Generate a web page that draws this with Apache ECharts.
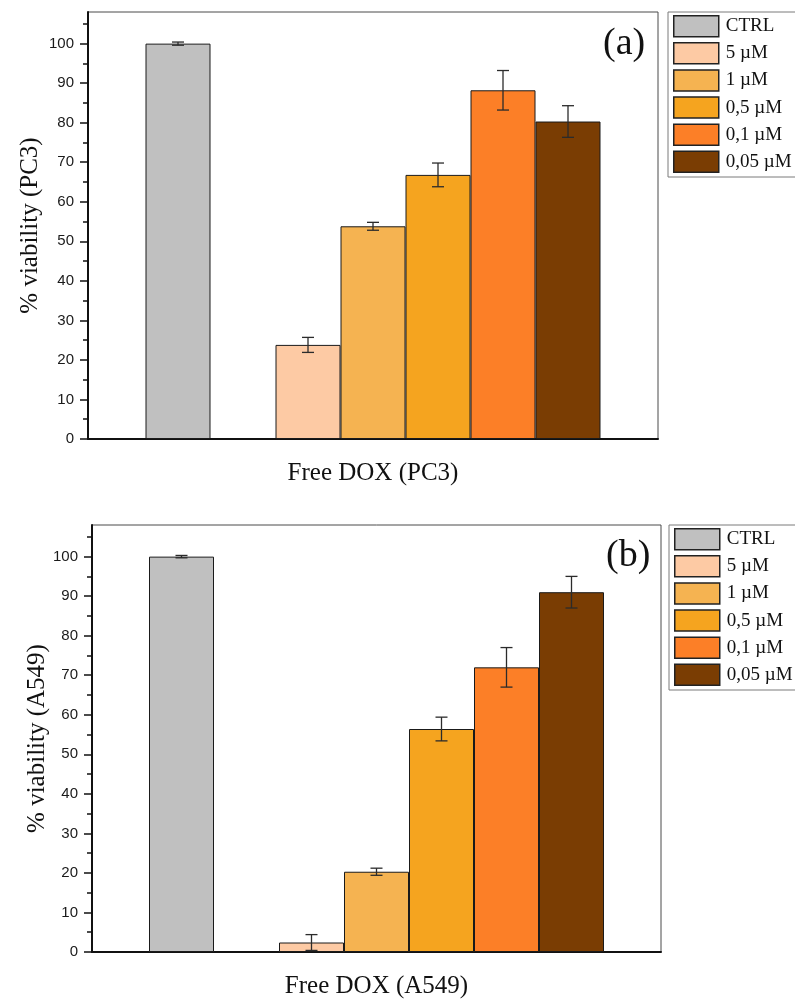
<!DOCTYPE html>
<html>
<head>
<meta charset="utf-8">
<title>Free DOX viability</title>
<script src="https://cdn.jsdelivr.net/npm/echarts@6/dist/echarts.min.js"></script>
<style>
  html, body { margin: 0; padding: 0; background: #ffffff; }
  #chart { width: 795px; height: 1003px; }
</style>
</head>
<body>
<div id="chart"></div>
<script>
// Treatment groups (legend order)
const groups = ['CTRL', '5 µM', '1 µM', '0,5 µM', '0,1 µM', '0,05 µM'];
const groupColors = ['#c0c0c0', '#fdcaa4', '#f5b351', '#f5a41f', '#fc7f27', '#7a3d03'];

// Cell viability (%) and standard deviation per group
const pc3Viability = [100, 23.8, 53.8, 66.8, 88.2, 80.3];
const pc3Error = [0.4, 1.9, 1.0, 3.0, 5.0, 4.0];
const a549Viability = [100, 2.4, 20.3, 56.4, 72.0, 91.0];
const a549Error = [0.3, 2.0, 0.9, 3.0, 5.0, 4.0];

// Axis tick values
const majorTicks = [0, 10, 20, 30, 40, 50, 60, 70, 80, 90, 100];
const minorTicks = [5, 15, 25, 35, 45, 55, 65, 75, 85, 95, 105];

const panels = [
  { category: 'Free DOX (PC3)', yName: '% viability (PC3)', tag: '(a)',
    values: pc3Viability, errors: pc3Error,
    grid: { left: 88, right: 137, top: 12, height: 427 },
    legend: { left: 668, top: 12 }, tagPos: [603, 44], yGap: 45 },
  { category: 'Free DOX (A549)', yName: '% viability (A549)', tag: '(b)',
    values: a549Viability, errors: a549Error,
    grid: { left: 92, right: 134, top: 525, height: 427 },
    legend: { left: 669, top: 525 }, tagPos: [606, 556], yGap: 42 }
];

const BAR_W = 65;
// slot layout inside the category: CTRL, empty gap, then the five doses
const groupSlots = [0, 2, 3, 4, 5, 6];
const SLOT_COUNT = 7;

const serif = '"Liberation Serif", "Times New Roman", serif';
const sans = '"Liberation Sans", Arial, sans-serif';

function renderErrorBar(params, api) {
  const cat = api.value(0);
  const v = api.value(1);
  const e = api.value(2);
  const slot = api.value(3);
  const mid = api.coord([cat, v]);
  const hi = api.coord([cat, v + e]);
  const lo = api.coord([cat, v - e]);
  const x = mid[0] + (slot - (SLOT_COUNT - 1) / 2) * BAR_W;
  const cap = 6;
  const style = { stroke: '#2b2b2b', lineWidth: 1.3 };
  return {
    type: 'group',
    children: [
      { type: 'line', shape: { x1: x, y1: hi[1], x2: x, y2: lo[1] }, style },
      { type: 'line', shape: { x1: x - cap, y1: hi[1], x2: x + cap, y2: hi[1] }, style },
      { type: 'line', shape: { x1: x - cap, y1: lo[1], x2: x + cap, y2: lo[1] }, style }
    ]
  };
}

const option = {
  backgroundColor: '#ffffff',
  animation: false,
  grid: [], xAxis: [], yAxis: [], legend: [], series: [], graphic: []
};

panels.forEach((p, i) => {
  option.grid.push(Object.assign({
    show: true, borderColor: '#4a4a4a', borderWidth: 1, backgroundColor: 'transparent'
  }, p.grid));

  option.xAxis.push({
    type: 'category', gridIndex: i, data: [p.category],
    name: p.category, nameLocation: 'middle', nameGap: 22,
    nameTextStyle: { fontFamily: serif, fontSize: 25, color: '#111' },
    axisLine: { lineStyle: { color: '#111', width: 2 } },
    axisTick: { alignWithLabel: true, length: 7, lineStyle: { color: '#111', width: 1.5 } },
    axisLabel: { show: false },
    splitLine: { show: false }
  });

  // main value axis
  option.yAxis.push({
    type: 'value', gridIndex: i, position: 'left', min: 0, max: 108,
    name: p.yName, nameLocation: 'middle', nameGap: p.yGap, nameMoveOverlap: false,
    nameTextStyle: { fontFamily: serif, fontSize: 25, color: '#111' },
    axisLine: { show: true, lineStyle: { color: '#111', width: 2 } },
    axisTick: { show: true, length: 8, customValues: majorTicks, lineStyle: { color: '#111', width: 1.5 } },
    axisLabel: { customValues: majorTicks, fontFamily: sans, fontSize: 15, color: '#1a1a1a', margin: 14 },
    splitLine: { show: false }
  });
  // minor ticks on the same left edge
  option.yAxis.push({
    type: 'value', gridIndex: i, position: 'left', offset: 0, min: 0, max: 108,
    axisLine: { show: false },
    axisTick: { show: true, length: 5, customValues: minorTicks, lineStyle: { color: '#111', width: 1.5 } },
    axisLabel: { show: false },
    splitLine: { show: false }
  });

  option.legend.push(Object.assign({
    orient: 'vertical', data: groups, icon: 'rect',
    itemWidth: 45, itemHeight: 21, itemGap: 4.6,
    padding: [3, 8, 4, 5], selectedMode: false,
    backgroundColor: '#ffffff', borderColor: '#7a7a7a', borderWidth: 1,
    itemStyle: { borderColor: '#222', borderWidth: 1.5 },
    textStyle: { fontFamily: serif, fontSize: 19, color: '#111', padding: [0, 0, 0, 2] }
  }, p.legend));

  const yMain = i * 2;
  groups.forEach((g, k) => {
    option.series.push({
      type: 'bar', name: g, xAxisIndex: i, yAxisIndex: yMain,
      data: [p.values[k]], barWidth: BAR_W, barGap: '0%',
      itemStyle: { color: groupColors[k], borderColor: '#1a1a1a', borderWidth: 1 },
      z: 2
    });
    if (k === 0) {
      // empty slot separating the control from the doses
      option.series.push({
        type: 'bar', name: 'gap', xAxisIndex: i, yAxisIndex: yMain,
        data: [null], barWidth: BAR_W, barGap: '0%', silent: true
      });
    }
  });

  option.series.push({
    type: 'custom', name: 'sd', xAxisIndex: i, yAxisIndex: yMain,
    renderItem: renderErrorBar, z: 5, silent: true,
    encode: { x: 0, y: 1 },
    data: groups.map((g, k) => [0, p.values[k], p.errors[k], groupSlots[k]])
  });

  option.graphic.push({
    type: 'text', x: p.tagPos[0], y: p.tagPos[1],
    style: { text: p.tag, font: '38px ' + serif, fill: '#111', verticalAlign: 'middle' }
  });
});

const chart = echarts.init(document.getElementById('chart'), null, { renderer: 'canvas' });
chart.setOption(option);
</script>
</body>
</html>
